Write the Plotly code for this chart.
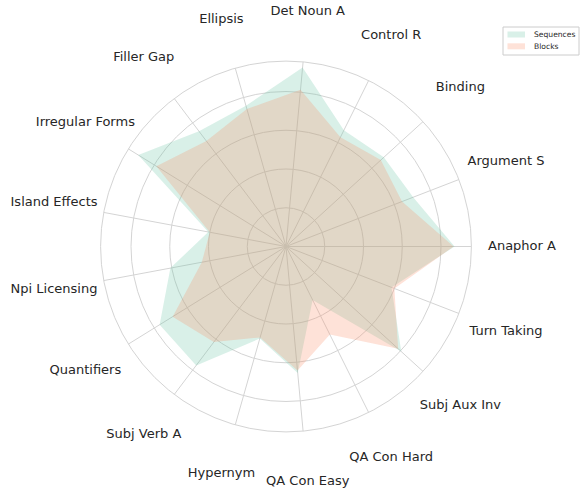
import plotly.graph_objects as go

categories = ["Anaphor A", "Argument S", "Binding", "Control R", "Det Noun A",
              "Ellipsis", "Filler Gap", "Irregular Forms", "Island Effects",
              "Npi Licensing", "Quantifiers", "Subj Verb A", "Hypernym",
              "QA Con Easy", "QA Con Hard", "Subj Aux Inv", "Turn Taking"]

sequences = [0.870, 0.704, 0.683, 0.670, 0.928, 0.755, 0.745, 0.897, 0.408,
             0.607, 0.767, 0.769, 0.494, 0.656, 0.308, 0.805, 0.584]

blocks = [0.865, 0.642, 0.662, 0.630, 0.812, 0.738, 0.682, 0.787, 0.400,
          0.442, 0.688, 0.618, 0.488, 0.643, 0.508, 0.783, 0.600]

series_names = ["Sequences", "Blocks"]
series_fill = ["rgba(102,194,165,0.25)", "rgba(252,141,98,0.25)"]

RING_TICKS = [0.2, 0.4, 0.6, 0.8]
RMAX = 0.957          # outer circle of the chart
LABEL_R = 1.218       # radius where category labels are centred
RANGE_MAX = 1.225

GRID = "#d4d4d4"
TEXT = "#262626"
W, H = 581, 490
PX_PER_UNIT = 193.75
CX, CY = 286.0, 246.5
half = RANGE_MAX * PX_PER_UNIT

fig = go.Figure()

# spokes (angular grid lines) that stop at the outer circle
spoke_r, spoke_t = [], []
for c in categories:
    spoke_r += [0, RMAX, None]
    spoke_t += [c, c, None]
fig.add_trace(go.Scatterpolar(
    r=spoke_r, theta=spoke_t, mode="lines",
    line=dict(color=GRID, width=1), showlegend=False, hoverinfo="skip",
    connectgaps=False,
))

for name, vals, col in zip(series_names, [sequences, blocks], series_fill):
    fig.add_trace(go.Scatterpolar(
        r=vals + [vals[0]], theta=categories + [categories[0]],
        fill="toself", mode="none", name=name, fillcolor=col,
        showlegend=False,
    ))

fig.add_trace(go.Scatterpolar(
    r=[LABEL_R] * len(categories), theta=categories,
    mode="text", text=categories, textposition="middle center",
    textfont=dict(family="DejaVu Sans", size=13, color=TEXT),
    cliponaxis=False, showlegend=False, hoverinfo="skip",
))


def px_x(x):
    return x / W


def px_y(y):
    return 1 - y / H


# hand-made legend box (matplotlib-like, compact)
shapes = [dict(type="rect", xref="paper", yref="paper",
               x0=px_x(503), x1=px_x(579), y0=px_y(55), y1=px_y(27),
               line=dict(color="#cccccc", width=1), fillcolor="white",
               layer="above")]
annotations = []
for i, (name, col) in enumerate(zip(series_names, series_fill)):
    yc = 34.5 + 11.8 * i
    shapes.append(dict(type="rect", xref="paper", yref="paper",
                       x0=px_x(507.5), x1=px_x(525), y0=px_y(yc + 3), y1=px_y(yc - 3),
                       line=dict(width=0), fillcolor=col, layer="above"))
    annotations.append(dict(xref="paper", yref="paper", x=px_x(531.5), y=px_y(yc),
                            xanchor="left", yanchor="middle", showarrow=False,
                            text=name, font=dict(family="DejaVu Sans", size=7.6,
                                                 color=TEXT)))

fig.update_layout(
    width=W, height=H,
    margin=dict(l=0, r=0, t=0, b=0),
    paper_bgcolor="white",
    font=dict(family="DejaVu Sans", color=TEXT),
    showlegend=False,
    shapes=shapes,
    annotations=annotations,
    polar=dict(
        domain=dict(x=[(CX - half) / W, (CX + half) / W],
                    y=[1 - (CY + half) / H, 1 - (CY - half) / H]),
        bgcolor="rgba(0,0,0,0)",
        angularaxis=dict(
            rotation=0, direction="counterclockwise",
            showticklabels=False, ticks="",
            showgrid=False, showline=False,
        ),
        radialaxis=dict(
            range=[0, RANGE_MAX], tickvals=RING_TICKS + [RMAX],
            showticklabels=False, ticks="", showline=False,
            showgrid=True, gridcolor=GRID, gridwidth=1,
        ),
    ),
)

fig.write_html("out.html",
               config={"displayModeBar": False},
               post_script="document.body.style.margin='0';"
                           "document.body.style.overflow='hidden';")
